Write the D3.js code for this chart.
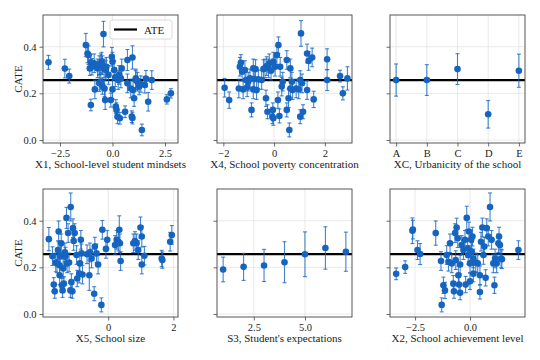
<!DOCTYPE html>
<html>
<head>
<meta charset="utf-8">
<script src="https://cdn.jsdelivr.net/npm/d3@7"></script>
<style>
  body { margin: 0; background: #fff; }
  svg { font-family: "Liberation Serif", "DejaVu Serif", serif; }
</style>
</head>
<body>
<div id="chart"></div>
<script>
// each row: [x, cate, half-width of the error bar]
var x1Data = [
  [-3.05, 0.333, 0.03], [-2.27, 0.306, 0.04], [-2.06, 0.274, 0.03], [-1.27, 0.407, 0.05],
  [-1.19, 0.371, 0.04], [-1.14, 0.364, 0.04], [-1.03, 0.333, 0.035], [-1.08, 0.307, 0.03],
  [-0.98, 0.314, 0.035], [-0.87, 0.329, 0.04], [-1.03, 0.150, 0.025], [-0.84, 0.217, 0.04],
  [-0.71, 0.307, 0.04], [-0.63, 0.321, 0.04], [-0.56, 0.329, 0.04], [-0.52, 0.336, 0.04],
  [-0.43, 0.454, 0.055], [-0.48, 0.321, 0.04], [-0.40, 0.307, 0.04], [-0.32, 0.300, 0.04],
  [-0.35, 0.171, 0.04], [-0.56, 0.250, 0.035], [-0.63, 0.243, 0.035], [-0.48, 0.231, 0.035],
  [-0.38, 0.221, 0.035], [-0.29, 0.314, 0.04], [-0.19, 0.279, 0.04], [-0.08, 0.171, 0.03],
  [-0.03, 0.357, 0.04], [0.00, 0.336, 0.04], [0.08, 0.300, 0.04], [0.13, 0.269, 0.04],
  [0.00, 0.217, 0.04], [0.16, 0.143, 0.03], [0.19, 0.129, 0.03], [0.24, 0.100, 0.03],
  [0.35, 0.093, 0.025], [0.27, 0.257, 0.04], [0.32, 0.279, 0.04], [0.40, 0.264, 0.04],
  [0.44, 0.307, 0.04], [0.60, 0.121, 0.025], [0.71, 0.343, 0.045], [0.71, 0.243, 0.04],
  [0.87, 0.221, 0.04], [0.92, 0.100, 0.025], [0.95, 0.094, 0.025], [0.95, 0.354, 0.05],
  [0.98, 0.214, 0.04], [1.03, 0.179, 0.035], [1.11, 0.257, 0.04], [1.11, 0.264, 0.04],
  [1.19, 0.250, 0.04], [1.27, 0.229, 0.035], [1.35, 0.240, 0.035], [1.40, 0.043, 0.025],
  [1.54, 0.236, 0.035], [1.59, 0.263, 0.035], [1.70, 0.164, 0.04], [1.87, 0.257, 0.04],
  [2.59, 0.174, 0.02], [2.78, 0.200, 0.02]
];

var x4Data = [
  [-1.95, 0.224, 0.04], [-1.77, 0.171, 0.035], [-1.39, 0.221, 0.04], [-1.35, 0.314, 0.04],
  [-1.31, 0.331, 0.035], [-1.26, 0.293, 0.04], [-1.22, 0.217, 0.04], [-1.15, 0.300, 0.04],
  [-1.11, 0.257, 0.04], [-1.06, 0.226, 0.04], [-1.02, 0.250, 0.04], [-0.95, 0.264, 0.04],
  [-0.89, 0.129, 0.03], [-0.82, 0.307, 0.04], [-0.78, 0.261, 0.04], [-0.82, 0.217, 0.04],
  [-0.73, 0.304, 0.04], [-0.69, 0.214, 0.04], [-0.62, 0.260, 0.04], [-0.49, 0.257, 0.04],
  [-0.42, 0.304, 0.04], [-0.36, 0.307, 0.04], [-0.32, 0.179, 0.035], [-0.29, 0.317, 0.04],
  [-0.26, 0.121, 0.03], [-0.22, 0.307, 0.04], [-0.19, 0.329, 0.04], [-0.12, 0.297, 0.04],
  [-0.07, 0.100, 0.03], [-0.03, 0.093, 0.03], [-0.05, 0.129, 0.03], [-0.03, 0.336, 0.04],
  [0.04, 0.314, 0.04], [0.11, 0.364, 0.04], [0.17, 0.407, 0.035], [0.15, 0.171, 0.035],
  [0.21, 0.103, 0.03], [0.24, 0.314, 0.04], [0.30, 0.229, 0.04], [0.34, 0.250, 0.04],
  [0.50, 0.343, 0.04], [0.50, 0.129, 0.03], [0.57, 0.179, 0.04], [0.60, 0.043, 0.03],
  [0.64, 0.307, 0.04], [0.64, 0.221, 0.04], [0.70, 0.250, 0.04], [0.73, 0.214, 0.04],
  [0.87, 0.221, 0.04], [0.97, 0.217, 0.04], [1.03, 0.257, 0.04], [1.03, 0.100, 0.03],
  [1.06, 0.457, 0.055], [1.14, 0.121, 0.03], [1.10, 0.243, 0.04], [1.30, 0.371, 0.04],
  [1.30, 0.214, 0.04], [1.36, 0.339, 0.04], [1.50, 0.354, 0.04], [1.56, 0.174, 0.035],
  [2.09, 0.346, 0.045], [2.09, 0.257, 0.045], [2.60, 0.274, 0.025], [2.71, 0.200, 0.028],
  [2.89, 0.264, 0.05]
];

var xcCategories = ["A", "B", "C", "D", "E"];
var xcData = [
  [0, 0.257, 0.069], [1, 0.257, 0.066], [2, 0.304, 0.066], [3, 0.110, 0.059], [4, 0.297, 0.071]
];

var x5Data = [
  [-1.82, 0.321, 0.05], [-1.71, 0.248, 0.04], [-1.67, 0.126, 0.03], [-1.64, 0.097, 0.03],
  [-1.61, 0.221, 0.04], [-1.57, 0.217, 0.04], [-1.54, 0.274, 0.04], [-1.52, 0.354, 0.045],
  [-1.49, 0.209, 0.04], [-1.49, 0.166, 0.04], [-1.47, 0.248, 0.04], [-1.44, 0.303, 0.04],
  [-1.42, 0.123, 0.03], [-1.40, 0.101, 0.03], [-1.38, 0.195, 0.04], [-1.36, 0.130, 0.03],
  [-1.33, 0.264, 0.04], [-1.31, 0.246, 0.04], [-1.28, 0.412, 0.045], [-1.26, 0.217, 0.04],
  [-1.23, 0.347, 0.04], [-1.20, 0.221, 0.04], [-1.16, 0.101, 0.03], [-1.15, 0.459, 0.06],
  [-1.13, 0.137, 0.035], [-1.10, 0.097, 0.03], [-1.08, 0.368, 0.04], [-1.06, 0.313, 0.04],
  [-1.03, 0.347, 0.04], [-0.97, 0.253, 0.04], [-0.95, 0.152, 0.035], [-0.89, 0.173, 0.04],
  [-0.87, 0.217, 0.04], [-0.84, 0.318, 0.04], [-0.82, 0.260, 0.04], [-0.79, 0.169, 0.04],
  [-0.65, 0.256, 0.04], [-0.58, 0.166, 0.065], [-0.56, 0.264, 0.04], [-0.51, 0.238, 0.04],
  [-0.43, 0.087, 0.03], [-0.41, 0.289, 0.04], [-0.36, 0.260, 0.04], [-0.31, 0.212, 0.04],
  [-0.21, 0.039, 0.03], [-0.18, 0.361, 0.04], [-0.07, 0.279, 0.04], [-0.03, 0.318, 0.04],
  [0.21, 0.296, 0.04], [0.26, 0.318, 0.04], [0.31, 0.310, 0.04], [0.34, 0.361, 0.06],
  [0.36, 0.303, 0.04], [0.38, 0.227, 0.04], [0.77, 0.303, 0.04], [0.82, 0.313, 0.04],
  [0.87, 0.303, 0.04], [0.92, 0.274, 0.04], [0.99, 0.371, 0.045], [1.03, 0.332, 0.045],
  [1.03, 0.212, 0.04], [1.11, 0.250, 0.04], [1.64, 0.238, 0.035], [1.66, 0.231, 0.035],
  [1.90, 0.310, 0.04], [1.95, 0.339, 0.04]
];

var s3Data = [
  [1, 0.191, 0.053], [2, 0.202, 0.058], [3, 0.208, 0.069], [4, 0.222, 0.088],
  [5, 0.256, 0.096], [6, 0.283, 0.091], [7, 0.267, 0.084]
];

var x2Data = [
  [-3.36, 0.172, 0.025], [-2.95, 0.201, 0.027], [-2.62, 0.357, 0.055], [-2.60, 0.362, 0.04],
  [-2.39, 0.274, 0.04], [-2.27, 0.257, 0.045], [-1.56, 0.347, 0.052], [-1.32, 0.227, 0.04],
  [-1.29, 0.039, 0.03], [-1.21, 0.123, 0.035], [-1.14, 0.101, 0.035], [-1.06, 0.253, 0.04],
  [-0.98, 0.224, 0.04], [-0.91, 0.303, 0.04], [-0.83, 0.217, 0.04], [-0.76, 0.130, 0.035],
  [-0.73, 0.097, 0.03], [-0.68, 0.347, 0.04], [-0.65, 0.231, 0.04], [-0.61, 0.371, 0.04],
  [-0.56, 0.325, 0.04], [-0.53, 0.166, 0.04], [-0.50, 0.126, 0.035], [-0.45, 0.091, 0.03],
  [-0.45, 0.212, 0.04], [-0.38, 0.296, 0.04], [-0.30, 0.274, 0.04], [-0.23, 0.318, 0.04],
  [-0.20, 0.126, 0.035], [-0.15, 0.412, 0.05], [-0.11, 0.282, 0.04], [-0.08, 0.253, 0.04],
  [-0.05, 0.354, 0.04], [0.00, 0.217, 0.04], [0.00, 0.140, 0.035], [0.05, 0.318, 0.04],
  [0.08, 0.267, 0.04], [0.11, 0.332, 0.04], [0.15, 0.173, 0.035], [0.15, 0.238, 0.04],
  [0.26, 0.221, 0.04], [0.35, 0.217, 0.04], [0.45, 0.166, 0.04], [0.45, 0.094, 0.03],
  [0.50, 0.310, 0.04], [0.56, 0.371, 0.04], [0.61, 0.253, 0.04], [0.65, 0.289, 0.04],
  [0.71, 0.155, 0.035], [0.76, 0.368, 0.04], [0.83, 0.332, 0.04], [0.91, 0.459, 0.06],
  [0.98, 0.318, 0.04], [1.06, 0.217, 0.04], [1.11, 0.123, 0.035], [1.14, 0.238, 0.04],
  [1.21, 0.217, 0.04], [1.29, 0.303, 0.04], [1.32, 0.332, 0.04], [1.36, 0.296, 0.04],
  [1.41, 0.238, 0.04], [1.45, 0.235, 0.04], [2.20, 0.274, 0.04]
];

var ate = 0.257;
var yTicks = [0.0, 0.2, 0.4];

var panels = [
  { data: x1Data, label: "X1, School-level student mindsets", domain: [-3.31, 3.12], ticks: [-2.5, 0, 2.5], fmt: d3.format(".1f"), col: 0, row: 0, legend: true },
  { data: x4Data, label: "X4, School poverty concentration", domain: [-2.25, 3.07], ticks: [-2, 0, 2], fmt: d3.format("d"), col: 1, row: 0 },
  { data: xcData, label: "XC, Urbanicity of the school", domain: [-0.2, 4.2], ticks: [0, 1, 2, 3, 4], fmt: function (d) { return xcCategories[d]; }, col: 2, row: 0 },
  { data: x5Data, label: "X5, School size", domain: [-2.0, 2.14], ticks: [0, 2], fmt: d3.format("d"), col: 0, row: 1 },
  { data: s3Data, label: "S3, Student's expectations", domain: [0.7, 7.3], ticks: [2.5, 5.0], fmt: d3.format(".1f"), col: 1, row: 1 },
  { data: x2Data, label: "X2, School achievement level", domain: [-3.64, 2.5], ticks: [-2.5, 0], fmt: d3.format(".1f"), col: 2, row: 1 }
];

var width = 540, height = 360;
var colX = [43, 217, 390];
var rowY = [15, 189];
var pw = 135, ph = 128;
var blue = "#1565c0";

var svg = d3.select("#chart").append("svg")
  .attr("width", width)
  .attr("height", height);

function minus(s) { return String(s).replace("-", "\u2212"); }

panels.forEach(function (p) {
  var g = svg.append("g")
    .attr("transform", "translate(" + colX[p.col] + "," + rowY[p.row] + ")");

  var x = d3.scaleLinear().domain(p.domain).range([0, pw]);
  var y = d3.scaleLinear().domain([-0.013, 0.536]).range([ph, 0]);

  // grid
  g.append("g").selectAll("line").data(p.ticks).enter().append("line")
    .attr("x1", function (d) { return x(d); }).attr("x2", function (d) { return x(d); })
    .attr("y1", 0).attr("y2", ph)
    .attr("stroke", "#e3e3e3").attr("stroke-width", 0.8);
  g.append("g").selectAll("line").data(yTicks).enter().append("line")
    .attr("y1", function (d) { return y(d); }).attr("y2", function (d) { return y(d); })
    .attr("x1", 0).attr("x2", pw)
    .attr("stroke", "#e3e3e3").attr("stroke-width", 0.8);

  // ATE line
  g.append("line")
    .attr("x1", 0).attr("x2", pw)
    .attr("y1", y(ate)).attr("y2", y(ate))
    .attr("stroke", "#000").attr("stroke-width", 2.2);

  // error bars
  var eb = g.append("g").attr("stroke", blue).attr("stroke-width", 1.1).attr("stroke-opacity", 0.8);
  eb.selectAll(".v").data(p.data).enter().append("line")
    .attr("x1", function (d) { return x(d[0]); }).attr("x2", function (d) { return x(d[0]); })
    .attr("y1", function (d) { return y(d[1] - d[2]); }).attr("y2", function (d) { return y(d[1] + d[2]); });
  [-1, 1].forEach(function (s) {
    eb.selectAll(".c" + s).data(p.data).enter().append("line")
      .attr("x1", function (d) { return x(d[0]) - 2; }).attr("x2", function (d) { return x(d[0]) + 2; })
      .attr("y1", function (d) { return y(d[1] + s * d[2]); }).attr("y2", function (d) { return y(d[1] + s * d[2]); });
  });

  // points
  g.append("g").selectAll("circle").data(p.data).enter().append("circle")
    .attr("cx", function (d) { return x(d[0]); })
    .attr("cy", function (d) { return y(d[1]); })
    .attr("r", 3.3)
    .attr("fill", blue);

  // axes
  var xa = g.append("g").attr("transform", "translate(0," + ph + ")")
    .call(d3.axisBottom(x).tickValues(p.ticks).tickFormat(function (d) { return minus(p.fmt(d)); }).tickSize(3.5).tickSizeOuter(0));
  var ya = g.append("g")
    .call(d3.axisLeft(y).tickValues(yTicks).tickFormat(p.col === 0 ? d3.format(".1f") : "").tickSize(3.5).tickSizeOuter(0));
  [xa, ya].forEach(function (a) {
    a.select(".domain").remove();
    a.selectAll("line").attr("stroke", "#444").attr("stroke-width", 0.8);
    a.selectAll("text").attr("fill", "#222").style("font-size", "10.5px")
      .style("font-family", "Liberation Serif, serif");
  });

  g.append("rect")
    .attr("width", pw).attr("height", ph)
    .attr("fill", "none").attr("stroke", "#444").attr("stroke-width", 0.9);

  g.append("text")
    .attr("x", pw / 2).attr("y", ph + 25)
    .attr("text-anchor", "middle")
    .style("font-size", "11px").attr("fill", "#222")
    .text(p.label);

  if (p.col === 0) {
    g.append("text")
      .attr("transform", "translate(-21," + (ph / 2) + ")rotate(-90)")
      .attr("text-anchor", "middle")
      .style("font-size", "11px").attr("fill", "#222")
      .text("CATE");
  }

  if (p.legend) {
    var lg = g.append("g").attr("transform", "translate(67,5)");
    lg.append("rect").attr("width", 62).attr("height", 19).attr("rx", 2)
      .attr("fill", "#fff").attr("fill-opacity", 0.85).attr("stroke", "#d0d0d0").attr("stroke-width", 0.8);
    lg.append("line").attr("x1", 4).attr("x2", 27).attr("y1", 9.5).attr("y2", 9.5)
      .attr("stroke", "#000").attr("stroke-width", 2.2);
    lg.append("text").attr("x", 34).attr("y", 13.5)
      .style("font-size", "11px").attr("fill", "#222").text("ATE");
  }
});
</script>
</body>
</html>
